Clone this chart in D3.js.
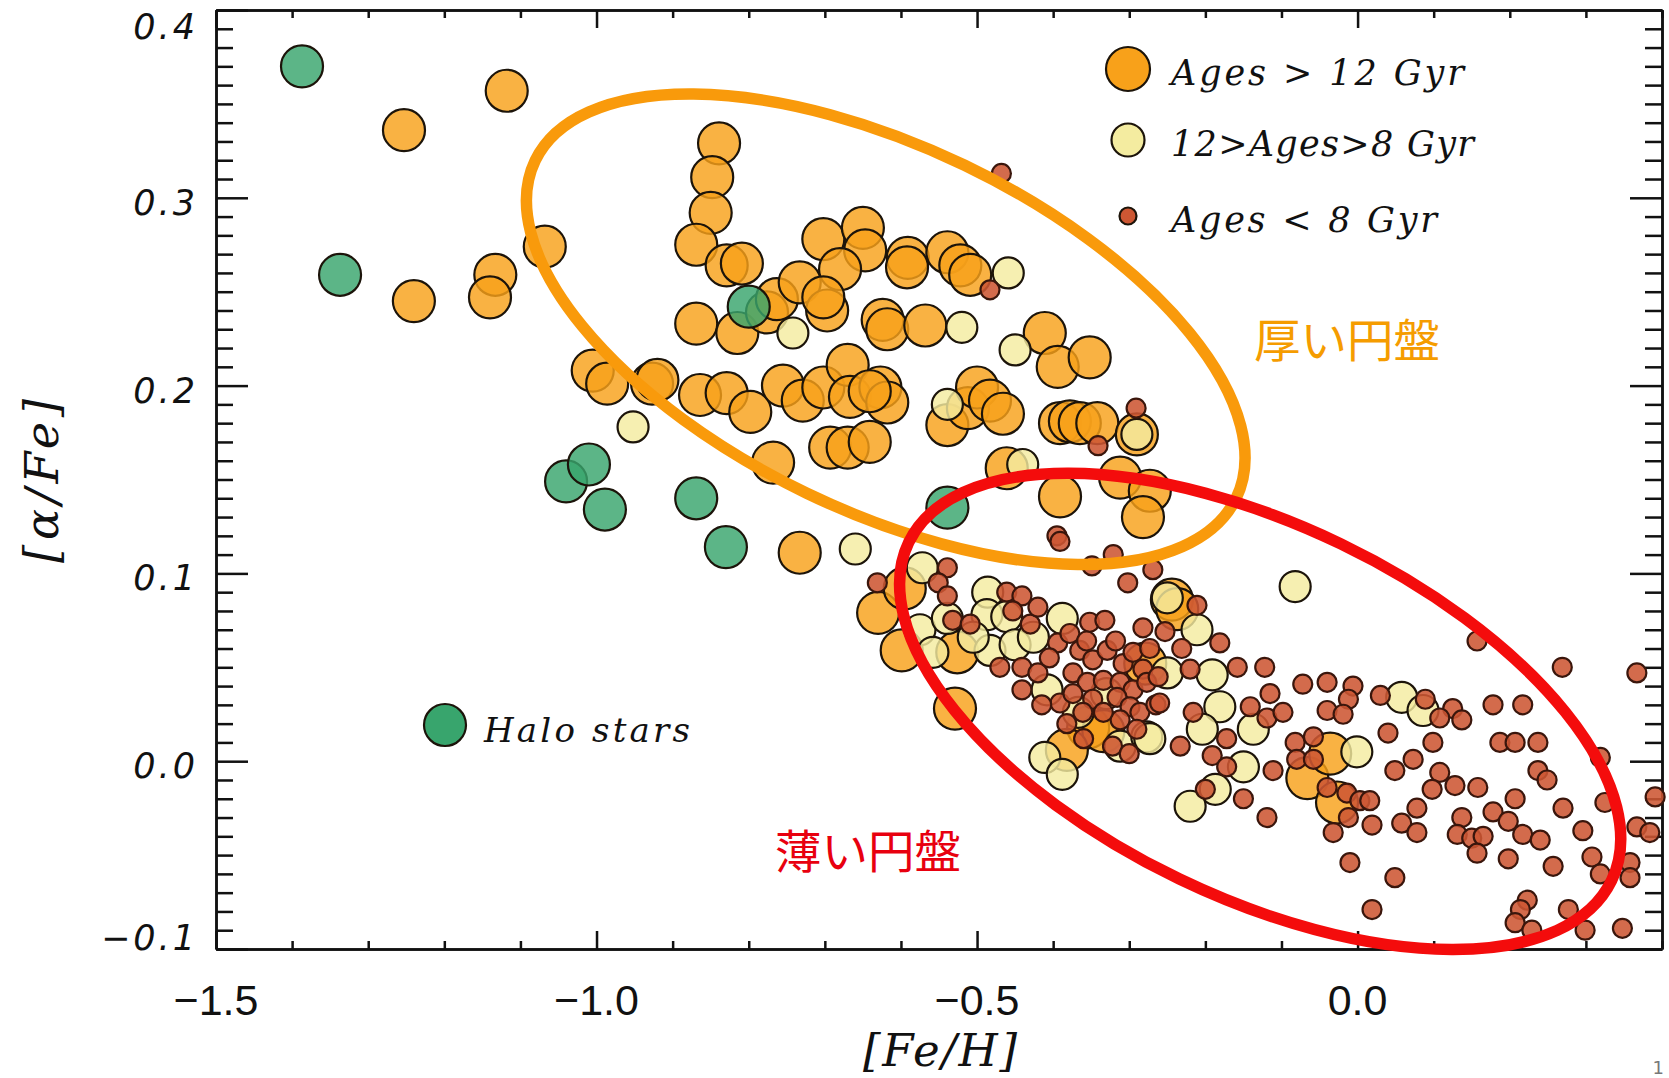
<!DOCTYPE html>
<html>
<head>
<meta charset="utf-8">
<script src="https://cdn.jsdelivr.net/npm/d3@7"></script>
<style>
body{margin:0;background:#fff;}
svg{display:block;}
</style>
</head>
<body>
<div id="chart"></div>
<script>
// [Fe/H] vs [alpha/Fe], stars split by age

var haloStars = [[-1.387,0.370],[-1.337,0.259],[-0.800,0.242],[-1.040,0.149],[-1.010,0.158],
	[-0.989,0.134],[-0.869,0.140],[-0.830,0.114],[-0.539,0.135]]

// Ages > 12 Gyr
var oldStars = [[-1.118,0.357],[-1.253,0.336],[-1.068,0.274],[-1.133,0.259],[-1.140,0.247],[-1.240,0.245],
	[-0.839,0.329],[-0.848,0.311],[-0.850,0.292],[-0.869,0.275],[-0.829,0.264],[-0.809,0.265],
	[-0.869,0.233],[-0.815,0.228],[-0.776,0.239],[-0.763,0.246],[-0.733,0.255],[-0.702,0.278],
	[-0.650,0.284],[-0.647,0.272],[-0.680,0.262],[-0.697,0.240],[-0.702,0.247],[-0.591,0.268],
	[-0.592,0.263],[-0.624,0.235],[-0.618,0.230],[-0.568,0.232],[-1.005,0.208],[-0.986,0.201],
	[-0.927,0.201],[-0.920,0.203],[-0.864,0.195],[-0.829,0.196],[-0.798,0.186],[-0.755,0.200],
	[-0.729,0.192],[-0.702,0.199],[-0.670,0.211],[-0.667,0.194],[-0.627,0.199],[-0.618,0.191],
	[-0.641,0.197],[-0.693,0.167],[-0.670,0.167],[-0.641,0.170],[-0.768,0.159],
	[-0.539,0.271],[-0.522,0.264],[-0.509,0.259],[-0.411,0.228],[-0.394,0.210],[-0.352,0.215],
	[-0.539,0.179],[-0.512,0.188],[-0.500,0.199],[-0.483,0.192],[-0.466,0.185],
	[-0.391,0.180],[-0.378,0.181],[-0.365,0.180],[-0.342,0.180],[-0.290,0.174],
	[-0.461,0.156],[-0.391,0.141],[-0.312,0.151],[-0.273,0.144],[-0.282,0.130],
	[-0.733,0.111],[-0.630,0.079],[-0.595,0.092],[-0.599,0.059],[-0.526,0.058],[-0.529,0.028],
	[-0.354,0.018],[-0.334,0.016],[-0.382,0.006],[-0.244,0.086],[-0.237,0.081],
	[-0.066,-0.009],[-0.036,0.004],[-0.027,-0.022],[-0.279,0.052]]

// 12 > Ages > 8 Gyr
var midStars = [[-0.952,0.178],[-0.742,0.228],[-0.520,0.231],[-0.459,0.260],[-0.450,0.219],[-0.539,0.190],
	[-0.290,0.174],[-0.440,0.158],[-0.660,0.113],[-0.572,0.103],[-0.575,0.070],[-0.558,0.058],
	[-0.539,0.076],[-0.486,0.090],[-0.487,0.078],[-0.461,0.077],[-0.483,0.059],[-0.450,0.062],
	[-0.426,0.066],[-0.388,0.076],[-0.408,0.038],[-0.367,0.026],[-0.312,0.008],[-0.411,0.002],
	[-0.388,-0.007],[-0.277,0.013],[-0.082,0.093],[-0.211,0.070],[-0.250,0.047],[-0.191,0.046],
	[-0.181,0.029],[-0.137,0.017],[-0.204,0.017],[-0.273,0.012],[-0.150,-0.003],[-0.187,-0.015],
	[-0.220,-0.024],[-0.001,0.005],[0.058,0.034],[0.086,0.027],[-0.250,0.087],
	[-0.505,0.066],[-0.330,0.036]]

// Ages < 8 Gyr
var youngStars = [[-0.468,0.313],[-0.483,0.251],[-0.291,0.188],[-0.341,0.168],[-0.395,0.120],[-0.321,0.110],
	[-0.349,0.104],[-0.302,0.095],[-0.269,0.102],[-0.631,0.095],[-0.539,0.103],[-0.551,0.095],
	[-0.539,0.088],[-0.532,0.075],[-0.509,0.073],[-0.461,0.090],[-0.441,0.088],[-0.453,0.080],
	[-0.430,0.073],[-0.420,0.082],[-0.470,0.050],[-0.441,0.050],[-0.420,0.047],[-0.441,0.038],
	[-0.391,0.031],[-0.394,0.063],[-0.378,0.068],[-0.352,0.074],[-0.332,0.075],[-0.365,0.059],
	[-0.348,0.054],[-0.329,0.059],[-0.308,0.052],[-0.295,0.058],[-0.282,0.049],[-0.374,0.047],
	[-0.355,0.042],[-0.334,0.043],[-0.312,0.042],[-0.295,0.038],[-0.277,0.042],[-0.374,0.036],
	[-0.348,0.033],[-0.316,0.034],[-0.299,0.029],[-0.286,0.026],[-0.312,0.022],[-0.290,0.017],
	[-0.334,0.026],[-0.361,0.026],[-0.382,0.020],[-0.282,0.071],[-0.391,0.117],
	[-0.273,0.060],[-0.262,0.045],[-0.405,0.055],[-0.415,0.030],[-0.360,0.012],[-0.322,0.008],
	[-0.300,0.004],[-0.265,0.030],[-0.356,0.064],[-0.318,0.064],
	[-0.211,0.083],[-0.181,0.063],[-0.253,0.069],[-0.231,0.060],[-0.220,0.049],
	[-0.158,0.050],[-0.122,0.050],[-0.115,0.036],[-0.072,0.041],[-0.040,0.042],[-0.006,0.040],[0.030,0.035],
	[-0.012,0.033],[-0.040,0.027],[-0.019,0.025],[0.040,0.015],
	[-0.260,0.031],[-0.216,0.026],[-0.141,0.029],[-0.119,0.023],[-0.098,0.026],
	[-0.233,0.008],[-0.172,0.012],[-0.191,0.003],[-0.172,-0.003],[-0.200,-0.015],[-0.150,-0.020],
	[-0.119,-0.030],[-0.111,-0.005],[-0.082,0.010],[-0.058,0.013],[-0.080,0.001],[-0.058,0.001],
	[-0.040,-0.014],[-0.014,-0.017],[0.003,-0.021],[0.016,-0.021],[-0.012,-0.030],[0.019,-0.034],
	[-0.032,-0.038],[0.049,-0.005],[0.058,-0.033],[0.073,0.001],[-0.010,-0.054],[0.049,-0.062],[0.019,-0.079],
	[0.157,0.064],[0.269,0.050],[0.367,0.047],[0.089,0.033],[0.125,0.028],[0.137,0.022],[0.108,0.023],
	[0.178,0.030],[0.217,0.030],[0.099,0.010],[0.187,0.010],[0.207,0.010],[0.237,0.010],[0.237,-0.005],
	[0.249,-0.010],[0.319,0.002],[0.108,-0.006],[0.098,-0.015],[0.128,-0.013],[0.158,-0.014],
	[0.078,-0.025],[0.207,-0.020],[0.270,-0.025],[0.325,-0.022],[0.178,-0.027],[0.198,-0.032],
	[0.078,-0.038],[0.137,-0.030],[0.131,-0.039],[0.150,-0.041],[0.165,-0.040],[0.157,-0.049],
	[0.198,-0.052],[0.217,-0.039],[0.240,-0.042],[0.296,-0.037],[0.367,-0.035],[0.384,-0.038],
	[0.257,-0.056],[0.308,-0.051],[0.319,-0.060],[0.358,-0.054],[0.358,-0.062],
	[0.223,-0.074],[0.214,-0.079],[0.207,-0.086],[0.229,-0.090],[0.277,-0.079],[0.299,-0.090],
	[0.348,-0.089],[0.391,-0.019]]

var xTickLabels = [-1.5,-1.0,-0.5,0.0]
var yTickLabels = [-0.1,0.0,0.1,0.2,0.3,0.4]
var legendLabels = ["Ages > 12 Gyr","12>Ages>8 Gyr","Ages < 8 Gyr"]

// disk regions (centre in data units)
var diskRegions = [
	{name:"厚い円盤", feh:-0.620, alpha:0.230},
	{name:"薄い円盤", feh:-0.128, alpha:0.0265}
]

var colors = {
	old:"#f8a11a",
	mid:"#f4eca0",
	young:"#cd5733",
	halo:"#38a56d"
}
var radii = {old:21, mid:15.5, young:9.5, halo:21}

var W = 1669, H = 1078
var margin = {top:10, right:7, bottom:129, left:216}

var svg = d3.select("#chart").append("svg").attr("width",W).attr("height",H)
svg.append("rect").attr("width",W).attr("height",H).attr("fill","#fff")

var x = d3.scaleLinear().domain([-1.5,0.4]).range([margin.left, W-margin.right])
var y = d3.scaleLinear().domain([-0.1,0.4]).range([H-margin.bottom, margin.top])

// ---- axes, ticks pointing inwards on all four sides
var minorX = d3.range(-15,5).map(function(i){return i/10}).filter(function(v){return xTickLabels.indexOf(v)==-1})
var minorY = d3.range(-10,41).map(function(i){return i/100}).filter(function(v){
	return Math.abs(Math.round(v*10)-v*10)>1e-6
})

function styleAxis(g){
	g.selectAll("path").attr("stroke","#111").attr("stroke-width",2.5)
	g.selectAll("line").attr("stroke","#111").attr("stroke-width",2.5)
	g.selectAll("text").remove()
}

var y0 = y.range()[0], y1 = y.range()[1], x0 = x.range()[0], x1 = x.range()[1]

svg.append("g").attr("transform","translate(0,"+y0+")")
	.call(d3.axisBottom(x).tickValues(xTickLabels).tickSize(-18).tickSizeOuter(0)).call(styleAxis)
svg.append("g").attr("transform","translate(0,"+y0+")")
	.call(d3.axisBottom(x).tickValues(minorX).tickSize(-8).tickSizeOuter(0)).call(styleAxis)
svg.append("g").attr("transform","translate(0,"+y1+")")
	.call(d3.axisTop(x).tickValues(xTickLabels).tickSize(-18).tickSizeOuter(0)).call(styleAxis)
svg.append("g").attr("transform","translate(0,"+y1+")")
	.call(d3.axisTop(x).tickValues(minorX).tickSize(-8).tickSizeOuter(0)).call(styleAxis)

svg.append("g").attr("transform","translate("+x0+",0)")
	.call(d3.axisLeft(y).tickValues(yTickLabels).tickSize(-32).tickSizeOuter(0)).call(styleAxis)
svg.append("g").attr("transform","translate("+x0+",0)")
	.call(d3.axisLeft(y).tickValues(minorY).tickSize(-17).tickSizeOuter(0)).call(styleAxis)
svg.append("g").attr("transform","translate("+x1+",0)")
	.call(d3.axisRight(y).tickValues(yTickLabels).tickSize(-32).tickSizeOuter(0)).call(styleAxis)
svg.append("g").attr("transform","translate("+x1+",0)")
	.call(d3.axisRight(y).tickValues(minorY).tickSize(-17).tickSizeOuter(0)).call(styleAxis)

// tick labels
svg.append("g").selectAll("text")
	.data(xTickLabels)
	.enter().append("text")
	.attr("x",function(d){return x(d)})
	.attr("y",1015)
	.attr("text-anchor","middle")
	.attr("font-family","Liberation Sans")
	.attr("font-size","43px")
	.attr("fill","#111")
	.text(function(d){return d.toFixed(1).replace("-","\u2212")})

svg.append("g").selectAll("text")
	.data(yTickLabels)
	.enter().append("text")
	.attr("x",198)
	.attr("y",function(d){return Math.min(Math.max(y(d)+17,39),950)})
	.attr("text-anchor","end")
	.attr("font-family","DejaVu Sans")
	.attr("font-style","oblique")
	.attr("font-size","35px")
	.attr("letter-spacing","3px")
	.attr("fill","#111")
	.text(function(d){return d.toFixed(1).replace("-","\u2212")})

// axis titles
svg.append("text")
	.attr("x",940).attr("y",1066)
	.attr("text-anchor","middle")
	.attr("font-family","DejaVu Serif").attr("font-style","italic")
	.attr("font-size","45px").attr("fill","#111")
	.attr("textLength",154).attr("lengthAdjust","spacing")
	.text("[Fe/H]")

svg.append("text")
	.attr("transform","translate(58,481) rotate(-90)")
	.attr("text-anchor","middle")
	.attr("font-family","DejaVu Serif").attr("font-style","italic")
	.attr("font-size","46px").attr("fill","#111")
	.attr("textLength",164).attr("lengthAdjust","spacing")
	.text("[\u03b1/Fe]")

// ---- stars
function drawStars(data,kind){
	svg.append("g").attr("class",kind)
		.selectAll("circle")
		.data(data)
		.enter().append("circle")
		.attr("cx",function(d){return x(d[0])})
		.attr("cy",function(d){return y(d[1])})
		.attr("r",radii[kind])
		.attr("fill",colors[kind])
		.attr("fill-opacity",kind=="young"?0.88:0.82)
		.attr("stroke",kind=="young"?"#3a160c":"#1c140a")
		.attr("stroke-width",2.2)
}
drawStars(oldStars,"old")
drawStars(midStars,"mid")
drawStars(youngStars,"young")
drawStars(haloStars,"halo")

// ---- legend (top right)
var legendKinds = ["old","mid","young"]
var legendY = [69,140,216]
var legendLen = [293,303,266]
var legend = svg.append("g")
legend.selectAll("circle")
	.data(legendKinds)
	.enter().append("circle")
	.attr("cx",1128)
	.attr("cy",function(d,i){return legendY[i]})
	.attr("r",function(d){return radii[d]+ (d=="young"?-1:1)})
	.attr("fill",function(d){return colors[d]})
	.attr("stroke","#1c140a").attr("stroke-width",2.2)
legend.selectAll("text")
	.data(legendLabels)
	.enter().append("text")
	.attr("x",1171)
	.attr("y",function(d,i){return legendY[i]+16})
	.attr("font-family","DejaVu Serif").attr("font-style","italic")
	.attr("font-size","35px").attr("fill","#111")
	.attr("textLength",function(d,i){return legendLen[i]})
	.attr("lengthAdjust","spacing")
	.text(function(d){return d})

// halo legend
svg.append("circle").attr("cx",445).attr("cy",725).attr("r",radii.halo)
	.attr("fill",colors.halo).attr("stroke","#1c140a").attr("stroke-width",2.2)
svg.append("text").attr("x",484).attr("y",742)
	.attr("font-family","DejaVu Serif").attr("font-style","italic")
	.attr("font-size","34px").attr("fill","#111")
	.attr("textLength",206).attr("lengthAdjust","spacing")
	.text("Halo stars")

// ---- disk ellipses + labels
var ringColors = ["#f99a0b","#f40c0c"]
var ringRadii = [[389,182],[390,186]]
svg.append("g").selectAll("ellipse")
	.data(diskRegions)
	.enter().append("ellipse")
	.attr("transform",function(d){return "translate("+x(d.feh)+","+y(d.alpha)+") rotate(25.7)"})
	.attr("rx",function(d,i){return ringRadii[i][0]})
	.attr("ry",function(d,i){return ringRadii[i][1]})
	.attr("fill","none")
	.attr("stroke",function(d,i){return ringColors[i]})
	.attr("stroke-width",11.5)

var labelPos = [[1254,357],[775,868]]
var labelColors = ["#f59c00","#e8000f"]
svg.append("g").selectAll("text")
	.data(diskRegions)
	.enter().append("text")
	.attr("x",function(d,i){return labelPos[i][0]})
	.attr("y",function(d,i){return labelPos[i][1]})
	.attr("font-family","Noto Sans CJK JP")
	.attr("font-size","46px")
	.attr("fill",function(d,i){return labelColors[i]})
	.attr("textLength",186).attr("lengthAdjust","spacingAndGlyphs")
	.text(function(d){return d.name})

// slide number in the corner
svg.append("text").attr("x",1664).attr("y",1074)
	.attr("text-anchor","end")
	.attr("font-family","DejaVu Sans").attr("font-size","18px").attr("fill","#777")
	.text("1")
</script>
</body>
</html>
